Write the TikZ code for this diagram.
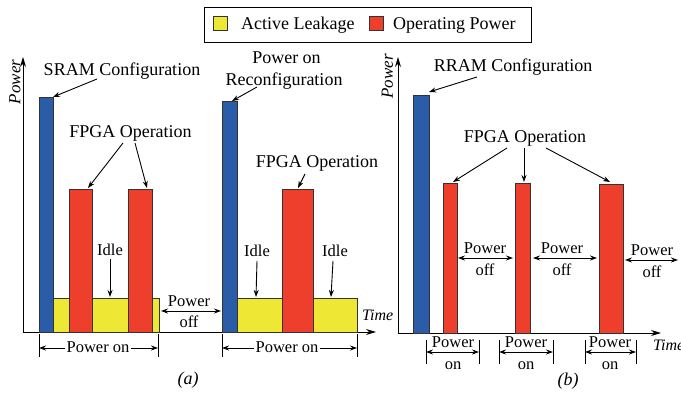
\documentclass[tikz,border=0pt]{standalone}
\usepackage{fontspec}
\setmainfont{Liberation Serif}
\newfontfamily\tms{Liberation Serif}
\usetikzlibrary{arrows.meta}
\definecolor{barblue}{HTML}{2A5CA8}
\definecolor{barred}{HTML}{EE3F2C}
\definecolor{baryellow}{HTML}{EEE835}
\definecolor{edgegray}{HTML}{333333}
\begin{document}
\begin{tikzpicture}[x=1pt,y=-1pt,
  lbl/.style={inner sep=0pt, font=\tms\fontsize{18}{20}\selectfont, anchor=base},
  sm/.style={inner sep=0pt, font=\tms\fontsize{16.5}{19}\selectfont, anchor=base},
  it/.style={inner sep=0pt, font=\tms\fontsize{16}{18}\selectfont\itshape},
  bar/.style={draw=edgegray, line width=0.9pt},
  conn/.style={line width=0.9pt, -{Stealth[length=7pt,width=5pt]}},
  dbl/.style={line width=0.9pt, {Stealth[length=7pt,width=5pt]}-{Stealth[length=7pt,width=5pt]}},
  axisline/.style={line width=1pt, -{Stealth[length=10pt,width=6pt]}},
  tickline/.style={line width=0.9pt},
  swatch/.style={draw=edgegray, line width=0.9pt, minimum size=14pt, inner sep=0pt},
]
\useasboundingbox (0,0) rectangle (681,396);

% ---------- legend ----------
\node[draw, line width=1pt, minimum width=327pt, minimum height=35pt, inner sep=0pt, anchor=north west] (legend) at (204,7) {};
\node[swatch, fill=baryellow] (swy) at (220.5,23.5) {};
\node[lbl, anchor=base west] (tly) at (241,29.3) {Active Leakage};
\node[swatch, fill=barred] (swr) at (376.5,23.5) {};
\node[lbl, anchor=base west] (tlr) at (393,29.3) {Operating Power};

% ---------- panel (a) ----------
\coordinate (aO) at (23,332);
\coordinate (aY) at (23,57);
\coordinate (aX) at (376,332);
\draw[axisline] (aO) -- (aY);
\draw[axisline] (aO) -- (aX);
\node[it, font=\tms\fontsize{17}{19}\selectfont\itshape, rotate=90] (powA) at (15,82) {Power};
\node[it, anchor=base west] (timeA) at (362,320.7) {Time};

\draw[bar, fill=baryellow] (53,332) rectangle (159,298);
\draw[bar, fill=barred] (69,332) rectangle (92,189);
\draw[bar, fill=barred] (128,332) rectangle (152,189);
\draw[bar, fill=barblue] (39,332) rectangle (53,97);
\draw[bar, fill=baryellow] (237,332) rectangle (357,298);
\draw[bar, fill=barred] (282,332) rectangle (313,189);
\draw[bar, fill=barblue] (222,332) rectangle (237,101);

\node[lbl] (sram) at (122,75.7) {SRAM Configuration};
\coordinate (sramS) at (97,79);
\coordinate (sramT) at (53,97);
\draw[conn] (sramS) -- (sramT);

\node[lbl] (fpgaA) at (130.5,137.3) {FPGA Operation};
\coordinate (fA1s) at (123,143);
\coordinate (fA1t) at (88,188);
\coordinate (fA2s) at (135,143);
\coordinate (fA2t) at (147,188);
\draw[conn] (fA1s) -- (fA1t);
\draw[conn] (fA2s) -- (fA2t);

\node[lbl] (ponA) at (286.5,64) {Power on};
\node[lbl] (reconf) at (284,85) {Reconfiguration};
\coordinate (recS) at (257,87);
\coordinate (recT) at (232,101);
\draw[conn] (recS) -- (recT);

\node[lbl] (fpgaB) at (317,167.3) {FPGA Operation};
\coordinate (fB1s) at (305,174);
\coordinate (fB1t) at (298,188);
\draw[conn] (fB1s) -- (fB1t);

\node[sm] (idle1) at (110,255) {Idle};
\coordinate (i1s) at (110,259);
\coordinate (i1t) at (110,297);
\draw[conn] (i1s) -- (i1t);
\node[sm] (idle2) at (257,256.7) {Idle};
\coordinate (i2s) at (257,261);
\coordinate (i2t) at (256,297);
\draw[conn] (i2s) -- (i2t);
\node[sm] (idle3) at (335,256.7) {Idle};
\coordinate (i3s) at (333,261);
\coordinate (i3t) at (331,297);
\draw[conn] (i3s) -- (i3t);

\node[sm] (poffA1) at (189,306) {Power};
\node[sm] (poffA2) at (189,327.7) {off};
\coordinate (poAl) at (161,311);
\coordinate (poAr) at (221,311);
\draw[dbl] (poAl) -- (poAr);

% power on brackets (a)
\coordinate (pa1t) at (39,334);  \coordinate (pa1b) at (39,357);
\coordinate (pa2t) at (158,334); \coordinate (pa2b) at (158,357);
\draw[tickline] (pa1t) -- (pa1b);
\draw[tickline] (pa2t) -- (pa2b);
\coordinate (pa1m) at (39,348); \coordinate (pa2m) at (158,348);
\draw[dbl] (pa1m) -- (pa2m);
\node[sm, fill=white, inner xsep=1.5pt] (ponTA1) at (98,352.3) {Power on};

\coordinate (pb1t) at (222,334); \coordinate (pb1b) at (222,357);
\coordinate (pb2t) at (357,334); \coordinate (pb2b) at (357,357);
\draw[tickline] (pb1t) -- (pb1b);
\draw[tickline] (pb2t) -- (pb2b);
\coordinate (pb1m) at (222,348); \coordinate (pb2m) at (357,348);
\draw[dbl] (pb1m) -- (pb2m);
\node[sm, fill=white, inner xsep=1.5pt] (ponTA2) at (287,352.3) {Power on};

\node[it, font=\tms\fontsize{18}{20}\selectfont\itshape, anchor=base] (capA) at (188,384) {(a)};

% ---------- panel (b) ----------
\coordinate (bO) at (398,333);
\coordinate (bY) at (398,57);
\coordinate (bX) at (661,333);
\draw[axisline] (bO) -- (bY);
\draw[axisline] (bO) -- (bX);
\node[it, font=\tms\fontsize{17}{19}\selectfont\itshape, rotate=90] (powB) at (387.5,76.5) {Power};
\node[it, anchor=base west] (timeB) at (653,350) {Time};

\draw[bar, fill=barblue] (413,333) rectangle (429,95);
\draw[bar, fill=barred] (443,333) rectangle (457,183);
\draw[bar, fill=barred] (515,333) rectangle (530,183);
\draw[bar, fill=barred] (599,333) rectangle (623,184);

\node[lbl] (rram) at (513,71.7) {RRAM Configuration};
\coordinate (rrS) at (477,77);
\coordinate (rrT) at (429,92);
\draw[conn] (rrS) -- (rrT);

\node[lbl] (fpgaC) at (525,142.7) {FPGA Operation};
\coordinate (fC1s) at (507,148); \coordinate (fC1t) at (453,182);
\coordinate (fC2s) at (524,148); \coordinate (fC2t) at (524,182);
\coordinate (fC3s) at (546,148); \coordinate (fC3t) at (610,182);
\draw[conn] (fC1s) -- (fC1t);
\draw[conn] (fC2s) -- (fC2t);
\draw[conn] (fC3s) -- (fC3t);

% power off (b)
\node[sm] (pofB1a) at (485,253.3) {Power};
\node[sm] (pofB1b) at (485,275) {off};
\coordinate (pob1l) at (458,258); \coordinate (pob1r) at (513,258);
\draw[dbl] (pob1l) -- (pob1r);
\node[sm] (pofB2a) at (562,253.3) {Power};
\node[sm] (pofB2b) at (562,275) {off};
\coordinate (pob2l) at (533,258); \coordinate (pob2r) at (597,258);
\draw[dbl] (pob2l) -- (pob2r);
\node[sm] (pofB3a) at (652,255.7) {Power};
\node[sm] (pofB3b) at (652,277) {off};
\coordinate (pob3l) at (625,260); \coordinate (pob3r) at (678,260);
\draw[dbl] (pob3l) -- (pob3r);

% power on (b)
\foreach \l/\r/\c/\n in {426/479/453/1, 499/553/526/2, 585/636/610/3} {
  \coordinate (qa\n t) at (\l,340); \coordinate (qa\n b) at (\l,364);
  \coordinate (qb\n t) at (\r,340); \coordinate (qb\n b) at (\r,364);
  \draw[tickline] (qa\n t) -- (qa\n b);
  \draw[tickline] (qb\n t) -- (qb\n b);
  \coordinate (qa\n m) at (\l,352); \coordinate (qb\n m) at (\r,352);
  \draw[dbl] (qa\n m) -- (qb\n m);
  \node[sm] (ponB\n a) at (\c,347.7) {Power};
  \node[sm] (ponB\n b) at (\c,369) {on};
}

\node[it, font=\tms\fontsize{18}{20}\selectfont\itshape, anchor=base] (capB) at (568,385) {(b)};
\end{tikzpicture}
\end{document}
